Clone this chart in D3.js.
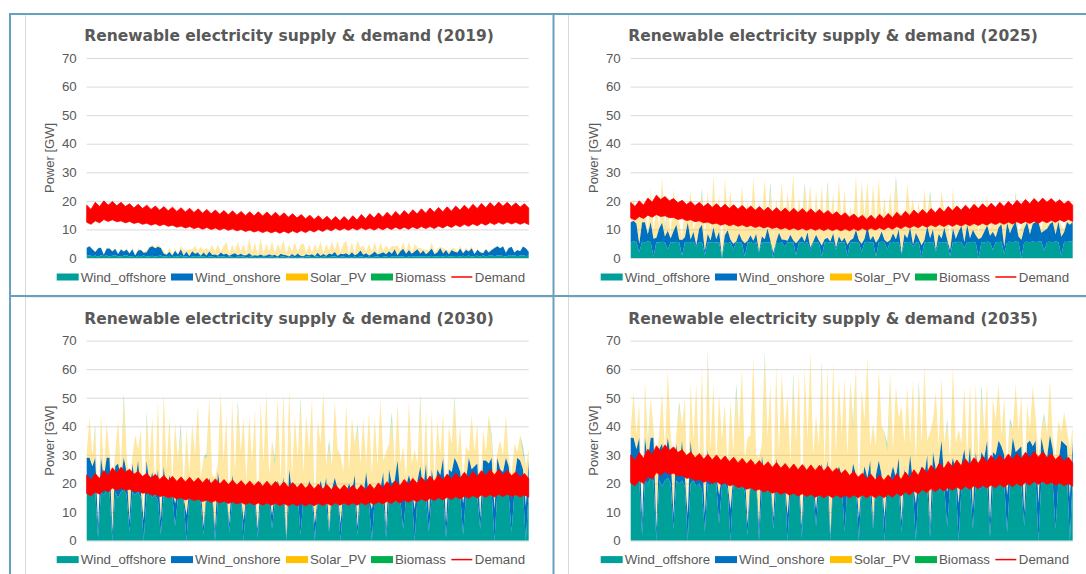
<!DOCTYPE html>
<html>
<head>
<meta charset="utf-8">
<script src="https://cdn.jsdelivr.net/npm/d3@7"></script>
<style>
  body { margin: 0; background: #fff; }
  svg { display: block; }
</style>
</head>
<body>
<div id="chart"></div>
<script>
// ---- data (GW) ----
const years = [2019, 2025, 2030, 2035];
const seriesNames = ["Wind_offshore", "Wind_onshore", "Solar_PV", "Biomass"];
const legendNames = ["Wind_offshore", "Wind_onshore", "Solar_PV", "Biomass", "Demand"];
const yTicks = [0, 10, 20, 30, 40, 50, 60, 70];

// supply: 156 samples over the year (three per week)
const offshore2019 = [
  0.8,1,0.6,0.9,0.4,1,0.7,0.9,0.5,0.8,1,0.6,0.4,
  0.9,1,0.5,0.7,0.3,0.8,0.6,0.9,0.4,0.6,0.8,0.5,0.7,
  0.9,0.4,0.6,0.8,0.3,0.7,0.5,0.9,0.4,0.6,0.3,0.5,0.7,
  0.6,0.4,0.7,0.3,0.5,0.6,0.2,0.5,0.4,0.6,0.3,0.5,0.4,
  0.3,0.5,0.4,0.6,0.2,0.4,0.5,0.3,0.4,0.2,0.5,0.3,0.4,
  0.5,0.3,0.2,0.4,0.6,0.3,0.2,0.5,0.3,0.4,0.2,0.3,0.5,
  0.5,0.3,0.4,0.6,0.2,0.5,0.4,0.3,0.5,0.6,0.3,0.4,0.5,
  0.3,0.4,0.2,0.5,0.3,0.6,0.4,0.2,0.5,0.3,0.4,0.6,0.3,
  0.4,0.6,0.3,0.5,0.7,0.4,0.6,0.5,0.3,0.6,0.7,0.4,0.5,
  0.6,0.4,0.7,0.5,0.8,0.4,0.6,0.7,0.5,0.8,0.6,0.4,0.7,
  0.7,0.5,0.8,0.6,0.9,0.4,0.7,0.8,0.5,0.9,0.6,0.8,1,
  0.6,0.9,1,0.7,0.5,0.9,0.8,1,0.6,0.9,1,0.7,0.8];
const onshore2019 = [
  2.8,3.1,2.5,1.2,3,2.6,0.4,2.4,2.8,1.5,2.2,0.8,2.6,
  1.4,2,1.1,2.4,0.6,1.8,2.2,0.9,1.6,3.1,3.3,2.9,3.2,
  2.6,1.2,0.5,1.4,0.6,1.8,0.7,2.2,0.5,1.6,0.4,1.9,0.8,
  1.3,0.4,1.2,0.6,1.8,0.5,1,0.4,1.5,0.6,1.2,0.3,0.9,
  1.4,0.5,1.1,0.4,0.8,1.3,0.3,0.7,0.4,1,0.3,0.6,0.9,
  0.4,0.8,0.3,1.1,0.5,0.7,0.3,0.9,0.4,1.2,0.6,0.3,0.8,
  0.5,1,0.3,1.2,0.6,0.9,0.4,1.3,0.7,1.5,0.5,1.1,0.8,
  1.4,0.6,1.8,0.5,1.2,2,0.7,1.5,0.4,1.1,1.9,0.6,1.3,
  1.6,0.7,2.1,1,2.4,0.6,1.8,2.7,1.2,2.2,0.8,1.9,2.6,
  1,2.2,0.6,1.7,2.5,0.9,1.4,2.8,1.1,2,0.7,2.4,1.5,
  1.2,2.8,0.9,2.3,1.4,3,0.7,2.1,1.5,0.8,2.5,1.1,1.8,
  2.9,3.2,2.4,3.4,1.3,2.6,3.1,0.9,2.2,1.5,3,2.7,1.4];
const solar2019 = [
  0.1,0,0.2,0,0.1,0.3,0,0.2,0.1,0.4,0,0.2,0.3,
  0,0.4,0.1,0.5,0.2,0.6,0.1,0.3,0.8,0.2,0.5,0.1,0.9,
  0.3,1,0.2,1.4,0.5,0.8,0.2,1.2,1.8,0.4,2.4,0.6,2.8,
  0.5,3.2,0.8,2.6,0.3,3.5,1,3.8,0.4,2.9,4.2,0.8,3.4,
  0.6,4.6,0.9,3.9,0.5,5.2,1.2,4.4,0.4,5.6,0.8,4.1,1,
  5,0.6,4.5,1.2,5.4,0.4,4.2,0.9,4.8,0.5,3.9,4.6,0.7,
  3.8,0.5,4.3,0.8,5,0.4,3.9,1.1,4.6,0.6,5.2,0.5,3.6,
  4.4,0.7,3.6,0.4,4.8,1,3.2,0.5,4.1,0.8,3.5,0.4,3.9,
  0.6,3.2,0.5,2.8,0.9,3.5,0.4,2.4,0.7,3,0.5,2.6,0.4,
  2,0.5,1.6,0.3,2.2,0.6,1.3,0.4,1.8,0.3,1.1,0.5,1.4,
  0.3,0.9,0.2,0.7,0.4,0.6,0.1,0.5,0.3,0.4,0.1,0.3,0.2,
  0.3,0.1,0.2,0,0.1,0.3,0,0.1,0.2,0,0.1,0,0.1];
const biomass2019 = []; // [sample, GW] specks

const offshore2025 = [
  5.5,5.8,5.6,2,5.7,5.5,5.8,5.6,0.5,5.6,5.4,5.7,5.5,
  3,5.6,5.4,5.7,5.5,0.8,5.3,5.6,5.5,5.7,4,5.4,5.6,
  1,5.5,5.3,5.6,5.4,5.5,0,5.5,5.2,5.6,3,5.4,5.5,
  5.3,0.6,5.4,5.6,5.2,5.5,2,5.4,5.6,5.3,5.5,0,5.4,
  5.2,5.6,4,5.5,5.3,5.6,1,5.4,5.5,5.2,5.6,2.5,5.4,
  5.5,5.3,0.4,5.5,5.6,5.4,5.5,3,5.6,5.3,5.5,0.8,5.6,
  5.4,5.5,5.6,2,5.5,5.7,5.4,5.6,0.5,5.5,5.7,5.6,3,
  5.7,5.5,5.6,5.4,1.2,5.6,5.5,5.7,4,5.4,5.6,0.3,5.5,
  5.6,5.4,5.7,2.2,5.5,5.6,5.3,5.5,0.6,5.6,5.4,5.7,5.5,
  3.5,5.6,5.5,5.7,5.4,0,5.6,5.5,5.7,5.6,2.8,5.5,5.6,
  5.7,1.5,5.6,5.7,5.5,5.8,5.6,0,5.6,5.7,5.5,5.8,5.6,
  5.7,5.8,2.5,5.6,5.7,5.5,5.8,5.6,0.8,5.7,5.6,5.8,5.7];
const onshore2025 = [
  7,7.2,6.5,3,6.8,7,2.5,7,6.2,1.5,5,6.6,2,
  6.5,1.2,4,6,1,5.5,2,6.8,1,3.5,0.5,4.8,6,
  1.5,3,0.8,5.2,1.2,3.8,0.5,2.5,4.5,0.8,2,0.4,3.2,
  1,4.6,0.6,2.4,0.8,3,0.4,2.2,1,5,0.6,1.8,0.3,
  3.6,0.9,2.4,0.5,2.8,0.6,4.2,1,2.2,0.5,3.4,1.2,0.4,
  2.6,0.8,4,1.1,1.5,0.4,3.2,0.7,2,0.5,1.6,3.8,0.6,
  1.4,4.4,0.7,3,1.2,5.4,0.9,2.2,4.8,1.3,3.6,0.8,2.5,
  0.6,3.2,1,4.6,0.5,2.8,1.4,5,0.7,3.4,1.1,4.2,0.8,
  5.6,1.5,4.4,0.7,3,1.2,5.4,0.9,2.2,4.8,1.3,3.6,5.8,
  2,6,1.4,4.2,2.6,6.6,1.6,3.8,5.8,2.2,6.4,1.8,5,
  6.2,2.4,6.8,3,5.6,7,1.9,6.4,4.6,6.9,2.8,6.2,7,
  6.8,3,7,4.6,6.2,7.1,2.4,7.2,6.6,3.4,7,5.8,6.9];
const solar2025 = [
  1,8,2,14,0.5,6,1,12,3,10,0.5,16,2,
  9,1,15,2,6,0.5,12,2,17,1,8,3,11,
  5,15,3,18,6,13,2,20,5,17,7,12,3,
  19,6,14,3,22,5,16,7,21,2,18,6,15,
  6,20,4,17,7,23,3,15,5,19,6,22,2,
  16,5,21,3,18,7,14,4,20,6,17,4,12,
  5,19,3,22,6,16,4,18,7,21,3,15,5,
  17,4,20,6,14,3,19,5,16,2,13,6,18,
  3,15,4,12,2,17,5,11,3,14,4,10,2,
  12,3,9,2,13,2,8,3,11,2,10,3,7,
  1,8,2,6,1,9,1,5,2,7,1,6,1,
  4,1,6,1,3,2,5,1,4,1,3,1,2];
const biomass2025 = [[12,1.5],[25,2],[40,1.2],[49,2.5],[61,1.5],[69,1.8],[82,1.2],[93,2],[105,1.5],[118,1],[135,1.2]];

const offshore2030 = [
  17,18,16,17,1,17,16,18,17,0,17,15,17,
  18,16,3,17,16,17,15,0,16,17,15,16,14,
  2,16,15,17,16,5,15,16,14,0,16,15,14,
  16,13,2,15,14,16,0,14,15,13,16,3,14,
  15,13,16,0,14,15,16,13,1,15,14,16,15,
  4,14,13,15,16,0,15,14,13,16,2,15,14,
  13,15,0,14,16,15,13,3,14,15,16,0,14,
  15,13,16,14,2,15,14,16,13,0,15,14,16,
  15,1,14,15,13,16,14,4,15,14,16,0,15,
  16,14,15,3,16,15,14,16,17,1,15,16,17,
  15,16,2,16,17,18,16,15,4,17,16,18,17,
  0,17,16,18,17,16,3,17,18,16,17,0,17];
const onshore2030 = [
  12,11,10,12,4,12,6,11,12,3,9,12,5,
  11,8,4,10,4,11,2,7,12,3,9,1,11,
  5,10,2,6,2,8,3,5,1,9,2,4,7,
  1,5,3,2,8,1,4,10,2,6,1,3,9,
  2,5,1,7,2,4,1,3,3,6,1,2,2,
  5,3,8,2,6,1,10,3,7,2,12,4,1,
  8,3,6,1,5,2,9,1,4,7,2,6,3,
  2,7,1,9,3,5,1,8,2,11,3,6,2,
  9,3,11,5,8,12,2,10,4,9,3,11,6,
  10,4,12,6,9,3,11,7,12,5,10,8,12,
  12,8,11,5,12,7,10,12,4,11,12,9,12,
  11,12,9,6,12,10,12,5,11,12,8,12,11];
const solar2030 = [
  2,14,4,10,1,16,3,12,2,18,5,15,3,
  20,6,13,2,17,4,22,3,15,8,19,2,24,
  5,26,8,20,3,28,10,17,4,30,6,22,9,
  31,4,24,12,28,6,18,3,35,9,27,5,26,
  7,29,14,36,5,25,10,30,3,28,12,34,6,
  26,9,29,4,30,15,28,6,23,11,34,5,29,
  10,32,6,27,13,35,4,29,8,27,14,24,7,
  31,5,26,11,34,7,28,3,30,12,25,6,32,
  4,27,9,22,5,20,11,19,3,26,8,21,6,
  23,5,18,9,20,3,17,7,16,4,15,10,20,
  3,16,8,12,2,19,5,14,9,11,3,17,6,
  13,2,10,6,15,3,8,12,2,9,5,14,4];
const biomass2030 = [[3,1.5],[13,2.5],[21,2],[33,3],[42,1.5],[53,2],[66,2.5],[75,1.8],[85,2.2],[95,1.5],[107,2.8],[117,2],[129,1.5],[142,1.8],[153,3]];

const offshore2035 = [
  21,22,20,21,2,21,20,22,21,0,21,19,21,
  22,20,4,21,20,21,19,0,20,21,19,20,18,
  3,20,19,21,20,6,19,20,18,0,20,19,18,
  20,17,2,19,18,20,0,18,19,17,20,4,18,
  19,17,20,0,18,19,20,17,1,19,18,20,19,
  5,18,17,19,20,0,19,18,17,20,3,19,18,
  17,19,0,18,20,19,17,4,18,19,20,0,18,
  19,17,20,18,3,19,18,20,17,0,19,18,20,
  19,1,18,19,17,20,18,5,19,18,20,0,19,
  20,18,19,4,20,19,18,20,21,1,19,20,21,
  19,20,3,20,21,22,20,19,5,21,20,22,21,
  0,21,20,22,23,20,4,21,22,20,23,0,22];
const onshore2035 = [
  15,14,12,15,5,15,8,14,15,4,11,15,6,
  14,10,5,13,5,14,3,9,15,4,11,2,13,
  6,12,3,8,3,10,4,6,2,11,3,5,9,
  2,7,4,3,10,2,5,12,3,8,2,4,11,
  3,6,2,9,3,5,2,4,4,8,2,3,3,
  6,4,10,2,8,2,4,4,9,3,14,5,2,
  10,4,8,2,6,3,11,2,5,9,3,8,4,
  3,9,2,11,4,6,2,10,3,13,4,8,3,
  11,4,13,6,10,15,3,12,5,11,4,13,8,
  12,5,14,7,11,4,13,9,14,6,12,10,14,
  14,10,13,6,15,9,12,14,5,13,15,11,14,
  13,15,11,7,14,12,15,6,13,14,10,15,13];
const solar2035 = [
  3,16,5,12,2,20,4,14,3,22,6,18,4,
  24,8,17,3,22,5,28,4,20,10,25,3,30,
  6,32,10,26,4,35,12,22,5,38,8,28,11,
  38,5,30,15,36,8,24,4,42,11,33,6,32,
  9,36,17,42,6,32,12,38,4,34,15,43,8,
  33,11,34,5,33,18,40,8,30,14,40,6,36,
  12,38,8,33,16,42,5,35,10,32,17,30,9,
  37,6,32,14,40,9,34,4,36,15,31,8,38,
  5,33,11,27,6,22,13,24,4,32,10,26,7,
  22,6,22,11,24,4,21,9,20,5,19,12,20,
  4,20,10,15,3,24,6,18,11,14,4,21,8,
  16,3,12,8,19,4,10,15,3,11,6,17,5];
const biomass2035 = [[6,2],[17,1.5],[27,2.5],[37,3],[47,2],[57,2.5],[67,1.8],[78,2.2],[90,3],[101,2],[111,1.5],[123,2.5],[133,2],[145,1.5]];

// demand band: per week [weekday, weekend] daily peak and night low
const demandHigh2019 = [
  18.5,17, 19.5,18, 20,18.5, 19.8,18.3, 19.5,18, 19,17.5, 18.8,17.3, 18.5,17, 18.2,16.7, 18,16.5,
  17.8,16.3, 17.6,16.1, 17.4,15.9, 17.2,15.7, 17,15.5, 16.8,15.3, 16.6,15.1, 16.5,15, 16.3,14.8, 16.2,14.7,
  16.2,14.7, 16.1,14.6, 16,14.5, 15.8,14.3, 15.5,14, 15.2,13.7, 15,13.5, 14.8,13.3, 14.6,13.1, 14.5,13,
  14.5,13, 14.8,13.3, 15.2,13.7, 15.5,14, 15.8,14.3, 16,14.5, 16.3,14.8, 16.6,15.1, 16.9,15.4, 17.2,15.7,
  17.5,16, 17.7,16.2, 17.9,16.4, 18.2,16.7, 18.5,17, 18.8,17.3, 19.1,17.6, 19.4,17.9, 19.6,18.1, 19.5,18,
  19.3,17.8, 19,17.5];
const demandLow2019 = [
  12.5,11.8, 13,12.3, 13.5,12.8, 13.4,12.7, 13,12.3, 12.8,12.1, 12.5,11.8, 12.2,11.5, 12,11.3, 11.8,11.1,
  11.5,10.8, 11.2,10.5, 11,10.3, 10.8,10.1, 10.7,10, 10.5,9.8, 10.4,9.7, 10.2,9.5, 10,9.3, 9.8,9.1,
  9.6,8.9, 9.5,8.8, 9.4,8.7, 9.4,8.7, 9.5,8.8, 9.6,8.9, 9.8,9.1, 10,9.3, 10.2,9.5, 10.4,9.7,
  10.4,9.7, 10.5,9.8, 10.6,9.9, 10.5,9.8, 10.6,9.9, 10.7,10, 10.8,10.1, 10.8,10.1, 10.9,10.2, 11,10.3,
  11,10.3, 11.2,10.5, 11.4,10.7, 11.6,10.9, 11.8,11.1, 12,11.3, 12.2,11.5, 12.4,11.7, 12.5,11.8, 12.6,11.9,
  12.5,11.8, 12.4,11.7];
const demandHigh2025 = [
  19.5,18, 20,18.5, 21,19.5, 22,20.5, 21.5,20, 20.8,19.3, 20.2,18.7, 19.8,18.3, 19.5,18, 19.2,17.7,
  19,17.5, 18.8,17.3, 18.6,17.1, 18.4,16.9, 18.2,16.7, 18,16.5, 17.8,16.3, 17.6,16.1, 17.5,16, 17.4,15.9,
  17.3,15.8, 17.2,15.7, 17,15.5, 16.6,15.1, 16.2,14.7, 15.8,14.3, 15.4,13.9, 15,13.5, 15,13.5, 15.3,13.8,
  15.6,14.1, 16,14.5, 16.4,14.9, 16.8,15.3, 17,15.5, 17.3,15.8, 17.6,16.1, 18,16.5, 18.2,16.7, 18.5,17,
  18.8,17.3, 19,17.5, 19.2,17.7, 19.5,18, 19.8,18.3, 20.2,18.7, 20.5,19, 20.8,19.3, 21,19.5, 20.8,19.3,
  20.4,18.9, 20,18.5];
const demandLow2025 = [
  14,13.3, 14.5,13.8, 15,14.3, 15.2,14.5, 14.8,14.1, 14.2,13.5, 13.8,13.1, 13.4,12.7, 13,12.3, 12.6,11.9,
  12.2,11.5, 12,11.3, 11.8,11.1, 11.6,10.9, 11.4,10.7, 11.2,10.5, 11,10.3, 10.8,10.1, 10.6,9.9, 10.5,9.8,
  10.4,9.7, 10.4,9.7, 10.3,9.6, 10.3,9.6, 10.2,9.5, 10.2,9.5, 10.3,9.6, 10.4,9.7, 10.5,9.8, 10.6,9.9,
  10.8,10.1, 11,10.3, 11.2,10.5, 11.3,10.6, 11.5,10.8, 11.6,10.9, 11.7,11, 11.8,11.1, 11.9,11.2, 12,11.3,
  12.1,11.4, 12.2,11.5, 12.4,11.7, 12.5,11.8, 12.6,11.9, 12.7,12, 12.8,12.1, 12.9,12.2, 13,12.3, 13.2,12.5,
  13.4,12.7, 13.5,12.8];
const demandHigh2030 = [
  23,21.2, 23.5,21.7, 24.5,22.7, 25.5,23.7, 25.7,23.9, 25,23.2, 24.2,22.4, 23.6,21.8, 23.2,21.4, 22.8,21,
  22.5,20.7, 22.3,20.5, 22.2,20.4, 22,20.2, 21.8,20, 21.6,19.8, 21.4,19.6, 21.2,19.4, 21,19.2, 20.9,19.1,
  20.8,19, 20.8,19, 20.7,18.9, 20.5,18.7, 20.3,18.5, 20.1,18.3, 19.9,18.1, 19.8,18, 19.6,17.8, 19.5,17.7,
  19.5,17.7, 19.4,17.6, 19.5,17.7, 19.8,18, 20.2,18.4, 20.6,18.8, 21,19.2, 21.4,19.6, 21.8,20, 22.2,20.4,
  22.6,20.8, 23,21.2, 23.3,21.5, 23.6,21.8, 23.9,22.1, 24.2,22.4, 24.5,22.7, 24.8,23, 24.8,23, 24.5,22.7,
  24,22.2, 23.5,21.7];
const demandLow2030 = [
  16.5,15.7, 17,16.2, 17.8,17, 18.4,17.6, 18.4,17.6, 18,17.2, 17.4,16.6, 16.8,16, 16.2,15.4, 15.8,15,
  15.4,14.6, 15,14.2, 14.8,14, 14.5,13.7, 14.2,13.4, 14,13.2, 13.8,13, 13.6,12.8, 13.4,12.6, 13.3,12.5,
  13.2,12.4, 13.2,12.4, 13.1,12.3, 13,12.2, 13,12.2, 13,12.2, 13,12.2, 13.1,12.3, 13.1,12.3, 13.2,12.4,
  13.2,12.4, 13.2,12.4, 13.3,12.5, 13.4,12.6, 13.6,12.8, 13.8,13, 14,13.2, 14.2,13.4, 14.4,13.6, 14.6,13.8,
  14.8,14, 15,14.2, 15.2,14.4, 15.4,14.6, 15.6,14.8, 15.8,15, 16,15.2, 16.1,15.3, 16.2,15.4, 16.2,15.4,
  16.1,15.3, 16,15.2];
const demandHigh2035 = [
  30,28, 30.8,28.8, 32,30, 33.2,31.2, 33.5,31.5, 32.8,30.8, 31.8,29.8, 31,29, 30.5,28.5, 30.2,28.2,
  30,28, 29.6,27.6, 29.2,27.2, 28.8,26.8, 28.4,26.4, 28,26, 27.6,25.6, 27.3,25.3, 27,25, 26.8,24.8,
  26.6,24.6, 26.5,24.5, 26.4,24.4, 26,24, 25.4,23.4, 24.8,22.8, 24.2,22.2, 23.6,21.6, 23.2,21.2, 23,21,
  23,21, 23.4,21.4, 24,22, 24.8,22.8, 25.6,23.6, 26.4,24.4, 27.2,25.2, 27.7,25.7, 28.2,26.2, 28.6,26.6,
  29,27, 29.4,27.4, 29.8,27.8, 30,28, 30.3,28.3, 30.6,28.6, 30.9,28.9, 31.2,29.2, 31,29, 30.4,28.4,
  29.8,27.8, 29.2,27.2];
const demandLow2035 = [
  20.2,19.2, 21,20, 22.5,21.5, 23.8,22.8, 24.2,23.2, 23.6,22.6, 22.8,21.8, 22,21, 21.4,20.4, 21,20,
  20.7,19.7, 20.2,19.2, 19.6,18.6, 19,18, 18.5,17.5, 18,17, 17.6,16.6, 17.2,16.2, 16.9,15.9, 16.6,15.6,
  16.4,15.4, 16.2,15.2, 16,15, 16,15, 16,15, 16,15, 16,15, 16,15, 16,15, 16,15,
  16.2,15.2, 16.6,15.6, 17,16, 17.4,16.4, 17.8,16.8, 18.2,17.2, 18.4,17.4, 18.6,17.6, 18.8,17.8, 19,18,
  19.2,18.2, 19.4,18.4, 19.5,18.5, 19.7,18.7, 19.9,18.9, 20.1,19.1, 20.4,19.4, 20.7,19.7, 20.7,19.7, 20.4,19.4,
  20.2,19.2, 20,19];

// ---- layout ----
const width = 1086, height = 574;
const plotW = 442, plotH = 200;
const colX = [86.7, 630.7];   // plot left of each column
const rowY = [58, 340.6];     // plot top of each row
const hoursInYear = 8760;

const colors = {
  Wind_offshore: "#00a09a",
  Wind_onshore: "#0070c0",
  Solar_PV: "#ffc000",
  Biomass: "#00b050",
  Demand: "#ff0000"
};
const fillOpacity = { Wind_offshore: 1, Wind_onshore: 1, Solar_PV: 0.36, Biomass: 0.35 };
const textColor = "#595959";
const frameBlue = "#68a0c2";
const boxGray = "#d9d9d9";

const panels = [
  { year: years[0], col: 0, row: 0, off: offshore2019, on: onshore2019, sol: solar2019, bio: biomass2019, hi: demandHigh2019, lo: demandLow2019 },
  { year: years[1], col: 1, row: 0, off: offshore2025, on: onshore2025, sol: solar2025, bio: biomass2025, hi: demandHigh2025, lo: demandLow2025 },
  { year: years[2], col: 0, row: 1, off: offshore2030, on: onshore2030, sol: solar2030, bio: biomass2030, hi: demandHigh2030, lo: demandLow2030 },
  { year: years[3], col: 1, row: 1, off: offshore2035, on: onshore2035, sol: solar2035, bio: biomass2035, hi: demandHigh2035, lo: demandLow2035 }
];

const svg = d3.select("#chart").append("svg")
    .attr("width", width)
    .attr("height", height)
    .style("font-family", "'Liberation Sans', Arial, sans-serif");

// chart boxes (light gray), like the spreadsheet chart objects
[[25, 14.5], [568, 14.5], [25, 297], [568, 297]].forEach(([bx, by]) => {
  svg.append("rect")
      .attr("x", bx + 0.5).attr("y", by)
      .attr("width", 528).attr("height", 281)
      .attr("fill", "none")
      .attr("stroke", boxGray);
});

const x = d3.scaleLinear().domain([0, hoursInYear]).range([0, plotW]);
const y = d3.scaleLinear().domain([0, 70]).range([plotH, 0]);

panels.forEach(p => {
  const g = svg.append("g")
      .attr("transform", `translate(${colX[p.col]},${rowY[p.row]})`);

  // gridlines + tick labels
  const axis = g.append("g")
      .call(d3.axisLeft(y).tickValues(yTicks).tickSize(-plotW).tickPadding(10));
  axis.select(".domain").remove();
  axis.selectAll(".tick line").attr("stroke", boxGray).attr("stroke-width", 1);
  axis.selectAll(".tick text")
      .attr("fill", textColor)
      .style("font-size", "13.3px")
      .style("font-family", "'Liberation Sans', Arial, sans-serif");

  // build stacked rows
  const n = p.off.length;
  const bio = new Array(n).fill(0);
  p.bio.forEach(([i, v]) => { bio[i] = v; });
  const rows = p.off.map((v, i) => ({
    hour: i * hoursInYear / (n - 1),
    Wind_offshore: v,
    Wind_onshore: p.on[i],
    Solar_PV: p.sol[i],
    Biomass: bio[i]
  }));
  const stacked = d3.stack().keys(seriesNames)(rows);

  const area = d3.area()
      .x(d => x(d.data.hour))
      .y0(d => y(d[0]))
      .y1(d => y(d[1]));

  g.selectAll(".supply")
      .data(stacked)
      .enter().append("path")
      .attr("class", "supply")
      .attr("d", area)
      .attr("fill", d => colors[d.key])
      .attr("fill-opacity", d => fillOpacity[d.key]);

  // demand band (weekday/weekend zigzag)
  const m = p.hi.length;
  const demandRows = p.hi.map((v, i) => ({ hour: i * hoursInYear / (m - 1), hi: v, lo: p.lo[i] }));
  g.append("path")
      .datum(demandRows)
      .attr("d", d3.area()
          .x(d => x(d.hour))
          .y0(d => y(d.lo))
          .y1(d => y(d.hi)))
      .attr("fill", colors.Demand)
      .attr("stroke", colors.Demand)
      .attr("stroke-width", 0.8);

  // title
  g.append("text")
      .attr("x", 202.3)
      .attr("y", -17)
      .attr("text-anchor", "middle")
      .attr("fill", textColor)
      .style("font-family", "'DejaVu Sans', Verdana, sans-serif")
      .style("font-weight", "bold")
      .style("font-size", "15.5px")
      .text(`Renewable electricity supply & demand (${p.year})`);

  // y axis title
  g.append("text")
      .attr("transform", `translate(-37,${plotH / 2}) rotate(-90)`)
      .attr("text-anchor", "middle")
      .attr("dominant-baseline", "central")
      .attr("fill", textColor)
      .style("font-size", "13px")
      .text("Power [GW]");

  // legend
  const legendX = [-30, 84.3, 199.3, 284.3, 364.6];
  const legend = g.append("g").attr("transform", `translate(0,${plotH + 19})`);
  legendNames.forEach((name, i) => {
    const item = legend.append("g").attr("transform", `translate(${legendX[i]},0)`);
    if (name === "Demand") {
      item.append("line")
          .attr("x1", 0).attr("x2", 21)
          .attr("stroke", colors.Demand)
          .attr("stroke-width", 1.5);
    } else {
      item.append("rect")
          .attr("y", -3.5)
          .attr("width", 22).attr("height", 7)
          .attr("fill", colors[name]);
    }
    item.append("text")
        .attr("x", name === "Demand" ? 23.5 : 24)
        .attr("dominant-baseline", "central")
        .attr("fill", textColor)
        .style("font-size", "13.3px")
        .text(name);
  });
});

// sheet frame lines (blue)
const frame = svg.append("g").attr("stroke", frameBlue).attr("stroke-width", 2);
frame.append("line").attr("x1", 9).attr("x2", width).attr("y1", 14).attr("y2", 14);
frame.append("line").attr("x1", 10).attr("x2", 10).attr("y1", 13).attr("y2", height);
frame.append("line").attr("x1", 553.5).attr("x2", 553.5).attr("y1", 13).attr("y2", height);
frame.append("line").attr("x1", 9).attr("x2", width).attr("y1", 296).attr("y2", 296);
</script>
</body>
</html>
